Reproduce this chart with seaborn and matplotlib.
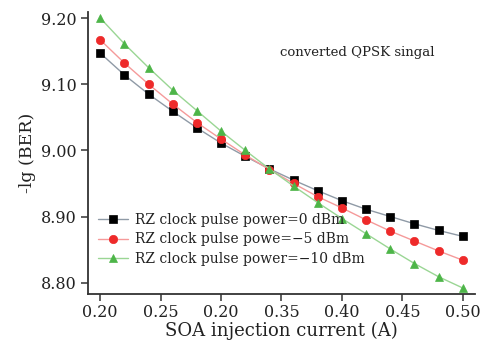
import numpy as np
import pandas as pd
import matplotlib
matplotlib.use("Agg")
import matplotlib.pyplot as plt
import seaborn as sns

current = [0.20, 0.22, 0.24, 0.26, 0.28, 0.30, 0.32, 0.34,
           0.36, 0.38, 0.40, 0.42, 0.44, 0.46, 0.48, 0.50]
ber_0dBm = [9.147, 9.114, 9.085, 9.059, 9.034, 9.011, 8.991, 8.972,
            8.955, 8.939, 8.924, 8.911, 8.900, 8.889, 8.879, 8.870]
ber_m5dBm = [9.167, 9.132, 9.100, 9.070, 9.042, 9.017, 8.993, 8.971,
             8.950, 8.930, 8.913, 8.895, 8.878, 8.863, 8.848, 8.834]
ber_m10dBm = [9.200, 9.161, 9.125, 9.091, 9.060, 9.029, 9.000, 8.972,
              8.946, 8.921, 8.897, 8.874, 8.851, 8.829, 8.809, 8.792]
labels = ["RZ clock pulse power=0 dBm",
          "RZ clock pulse powe=\u22125 dBm",
          "RZ clock pulse power=\u221210 dBm"]
xticks = [0.20, 0.25, 0.30, 0.35, 0.40, 0.45, 0.50]
xticklabels = ["0.20", "0.25", "0.20", "0.35", "0.40", "0.45", "0.50"]
yticks = [8.80, 8.90, 9.00, 9.10, 9.20]
yticklabels = ["8.80", "8.90", "9.00", "9.10", "9.20"]

sns.set_style("ticks")
plt.rcParams["font.family"] = ["DejaVu Serif"]
plt.rcParams["mathtext.fontset"] = "dejavuserif"

fig = plt.figure(figsize=(4.87, 3.45), dpi=100)
ax = fig.add_axes([0.181, 0.148, 0.794, 0.817])

series = [
    (ber_0dBm, labels[0], "s", "black", "#8f9aa6"),
    (ber_m5dBm, labels[1], "o", "#ee2a2a", "#f59a9a"),
    (ber_m10dBm, labels[2], "^", "#4db548", "#9ad694"),
]
for vals, lab, mk, mcol, lcol in series:
    df = pd.DataFrame({"current": current, "ber": vals})
    sns.lineplot(data=df, x="current", y="ber", ax=ax, label=lab,
                 color=lcol, linewidth=1.0, marker=mk, markersize=6,
                 markerfacecolor=mcol, markeredgecolor=mcol,
                 markeredgewidth=0.5)

ax.set_xlim(0.190, 0.510)
ax.set_ylim(8.783, 9.209)
ax.set_xticks(xticks)
ax.set_xticklabels(xticklabels)
ax.set_yticks(yticks)
ax.set_yticklabels(yticklabels)
ax.tick_params(axis="both", direction="out", length=5, width=1.1,
               colors="#333333", labelsize=11.5, labelcolor="#222222")
ax.tick_params(axis="x", pad=2.5)
for s in ["top", "right"]:
    ax.spines[s].set_visible(False)
for s in ["left", "bottom"]:
    ax.spines[s].set_linewidth(1.3)
    ax.spines[s].set_color("#333333")

ax.set_xlabel("SOA injection current (A)", fontsize=13, color="#222222", labelpad=0)
ax.set_ylabel("-lg (BER)", fontsize=12.5, color="#222222", labelpad=3)

ax.text(0.496, 0.858, "converted QPSK singal", transform=ax.transAxes,
        fontsize=9.5, color="#222222", va="center", ha="left")

leg = ax.legend(loc="lower left", bbox_to_anchor=(0.0, 0.066), frameon=False,
                fontsize=10, handlelength=2.2, handletextpad=0.45,
                labelspacing=0.37, borderaxespad=0.3)
for t in leg.get_texts():
    t.set_color("#222222")

fig.savefig("out.png", dpi=100)
